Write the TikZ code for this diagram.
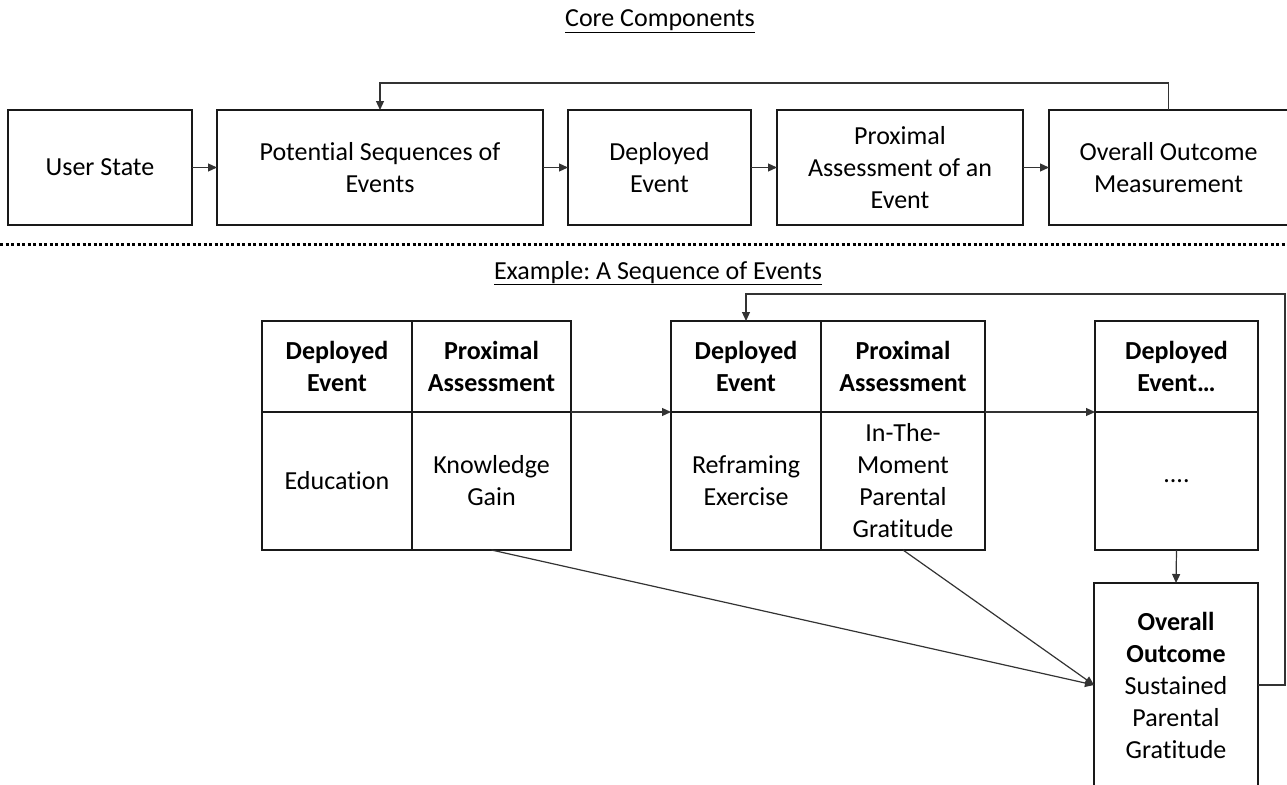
\documentclass[tikz,border=0pt]{standalone}
\usepackage{fontspec}
\setmainfont[Ligatures={NoCommon}]{Carlito}
\usetikzlibrary{arrows.meta}
\frenchspacing
\begin{document}
\begin{tikzpicture}[x=1pt,y=-1pt,
  every node/.style={font=\fontsize{26}{32}\selectfont},
  box/.style={draw=black!90,line width=1.2pt,align=center,inner sep=0pt,outer sep=0pt},
  topbox/.style={box,minimum height=115pt},
  hcell/.style={box,minimum height=91pt,font=\fontsize{26}{32}\selectfont\bfseries},
  bcell/.style={box,minimum height=138pt},
  arr/.style={draw=black!80,line width=1.2pt,-{Triangle[length=9pt,width=8pt]}},
  dotsep/.style={line width=3pt,dash pattern=on 3pt off 2.5pt}]
\useasboundingbox (0,0) rectangle (1287,784);

% titles
\node[anchor=base] (t1) at (660,27) {\frenchspacing\underline{Core Components}};
\node[anchor=base] (t2) at (658,279) {\frenchspacing\underline{Example: A Sequence of Events}};

% top row
\node[topbox,minimum width=184pt] (us) at (100,167.5) {User State};
\node[topbox,minimum width=326pt] (ps) at (380,167.5) {Potential Sequences of\\Events};
\node[topbox,minimum width=183pt] (de) at (659.5,167.5) {Deployed\\Event};
\node[topbox,minimum width=246pt] (pa) at (900,167.5) {Proximal\\Assessment of an\\Event};
\node[topbox,minimum width=239pt] (oom) at (1168.5,167.5) {Overall Outcome\\Measurement};

\draw[arr] (us) -- (ps);
\draw[arr] (ps) -- (de);
\draw[arr] (de) -- (pa);
\draw[arr] (pa) -- (oom);
\coordinate (tfb) at (1168.5,83);
\draw[arr] (oom.north) |- (tfb) -| (ps.north);

% separator
\draw[dotsep] (0,244) -- (1287,244);

% left table
\node[hcell,minimum width=150pt] (L1h) at (337,366.5) {Deployed\\Event};
\node[hcell,minimum width=159pt] (L2h) at (491.5,366.5) {Proximal\\Assessment};
\node[bcell,minimum width=150pt] (L1b) at (337,481) {Education};
\node[bcell,minimum width=159pt] (L2b) at (491.5,481) {Knowledge\\Gain};

% middle table
\node[hcell,minimum width=150pt] (M1h) at (746,366.5) {Deployed\\Event};
\node[hcell,minimum width=164pt] (M2h) at (903,366.5) {Proximal\\Assessment};
\node[bcell,minimum width=150pt] (M1b) at (746,481) {Reframing\\Exercise};
\node[bcell,minimum width=164pt] (M2b) at (903,481) {In-The-\\Moment\\Parental\\Gratitude};

% right table
\node[hcell,minimum width=163pt] (Rh) at (1176.5,366.5) {Deployed\\Event…};
\node[bcell,minimum width=163pt] (Rb) at (1176.5,481) {....};

% overall outcome
\node[box,minimum width=164pt,minimum height=204pt] (oo) at (1176,685)
  {\textbf{Overall}\\\textbf{Outcome}\\Sustained\\Parental\\Gratitude};

\draw[arr] (L2h.south east) -- (M1h.south west);
\draw[arr] (M2h.south east) -- (Rh.south west);
\draw[arr] (Rb.south) -- (oo.north);
\draw[arr] (L2b.south) -- (oo.west);
\draw[arr] (M2b.south) -- (oo.west);
\coordinate (bfb) at (1285,294);
\draw[arr] (oo.east) -| (bfb) -| (M1h.north);
\end{tikzpicture}
\end{document}
